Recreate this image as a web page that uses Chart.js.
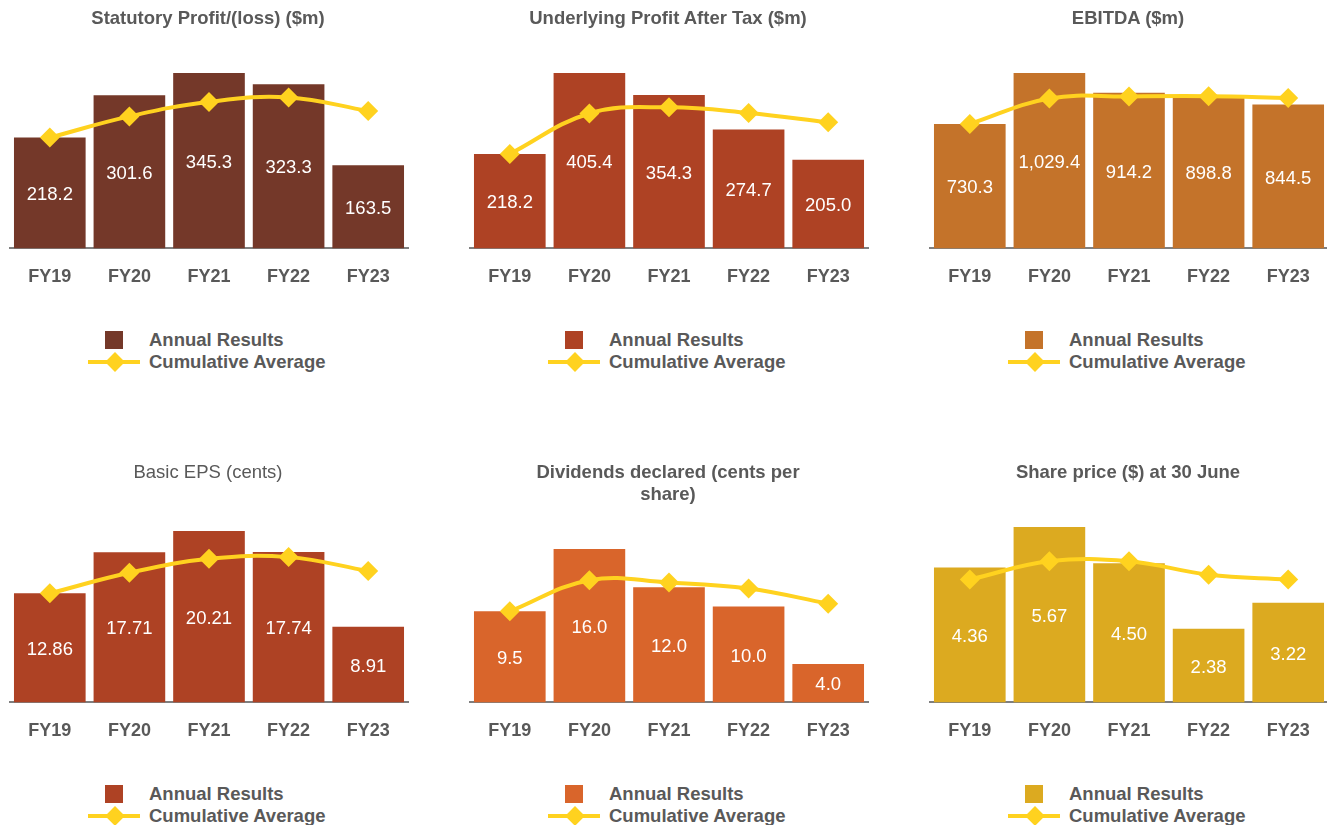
<!DOCTYPE html>
<html>
<head>
<meta charset="utf-8">
<script src="https://cdn.jsdelivr.net/npm/chart.js@4/dist/chart.umd.min.js"></script>
<style>
  body { margin: 0; background: #fff; font-family: "Liberation Sans", Arial, sans-serif; }
  #page { position: relative; width: 1327px; height: 825px; overflow: hidden; }
  .cell { position: absolute; width: 460px; height: 454px; }
  .cell canvas { position: absolute; left: 0; top: 0; }
  .title { position: absolute; left: 8px; width: 400px; text-align: center; color: #595959;
           font-size: 18.5px; font-weight: bold; line-height: 22px; top: 7px; }
  .title.plain { font-weight: normal; }
  .leg { position: absolute; left: 0; font-size: 18.5px; font-weight: bold; color: #595959; line-height: 20px; }
  .leg .box { position: absolute; left: 105px; top: 331px; width: 18px; height: 18px; }
  .leg .ln { position: absolute; left: 88px; top: 360px; width: 52px; height: 4px; background: #ffd21f; }
  .leg .dia { position: absolute; left: 108px; top: 355px; width: 14px; height: 14px; background: #ffd21f; transform: rotate(45deg); }
  .leg .t1 { position: absolute; left: 149px; top: 330px; white-space: nowrap; }
  .leg .t2 { position: absolute; left: 149px; top: 352px; white-space: nowrap; }
</style>
</head>
<body>
<div id="page"></div>
<script>
// categorias e valores
const years = ['FY19', 'FY20', 'FY21', 'FY22', 'FY23'];
const statutoryProfit = [218.2, 301.6, 345.3, 323.3, 163.5];
const statutoryAvg = [218.2, 259.9, 288.4, 297.2, 270.4];
const underlyingProfit = [218.2, 405.4, 354.3, 274.7, 205.0];
const underlyingAvg = [218.2, 311.8, 326.0, 313.2, 291.5];
const ebitda = [730.3, 1029.4, 914.2, 898.8, 844.5];
const ebitdaAvg = [730.3, 879.9, 891.3, 893.2, 883.4];
const basicEps = [12.86, 17.71, 20.21, 17.74, 8.91];
const basicEpsAvg = [12.86, 15.29, 16.93, 17.13, 15.49];
const dividends = [9.5, 16.0, 12.0, 10.0, 4.0];
const dividendsAvg = [9.5, 12.75, 12.5, 11.88, 10.3];
const sharePrice = [4.36, 5.67, 4.50, 2.38, 3.22];
const sharePriceAvg = [3.97, 4.56, 4.56, 4.13, 3.97];

const seriesNames = ['Annual Results', 'Cumulative Average'];
const lineColor = '#ffd21f';

const panels = [
  { title: 'Statutory Profit/(loss) ($m)', bars: statutoryProfit, avg: statutoryAvg, color: '#743829', dec: 1, top: 73 },
  { title: 'Underlying Profit After Tax ($m)', bars: underlyingProfit, avg: underlyingAvg, color: '#ae4224', dec: 1, top: 73 },
  { title: 'EBITDA ($m)', bars: ebitda, avg: ebitdaAvg, color: '#c4732a', dec: 1, top: 73 },
  { title: 'Basic EPS (cents)', bars: basicEps, avg: basicEpsAvg, color: '#ae4224', dec: 2, top: 77, plain: true },
  { title: 'Dividends declared (cents per<br>share)', bars: dividends, avg: dividendsAvg, color: '#d9652b', dec: 1, top: 95 },
  { title: 'Share price ($) at 30 June', bars: sharePrice, avg: sharePriceAvg, color: '#dcaa20', dec: 2, top: 73 }
];

// escreve o valor no meio de cada barra
const barLabels = {
  id: 'barLabels',
  afterDatasetsDraw(chart, args, opts) {
    const ctx = chart.ctx;
    const meta = chart.getDatasetMeta(1);
    ctx.save();
    ctx.fillStyle = '#ffffff';
    ctx.font = '18.5px "Liberation Sans", Arial, sans-serif';
    ctx.textAlign = 'center';
    ctx.textBaseline = 'middle';
    meta.data.forEach((bar, i) => {
      const v = chart.data.datasets[1].data[i];
      const txt = v.toLocaleString('en-US', { minimumFractionDigits: opts.dec, maximumFractionDigits: opts.dec });
      ctx.fillText(txt, bar.x, (bar.y + bar.base) / 2 + 2);
    });
    ctx.restore();
  }
};

const page = document.getElementById('page');

panels.forEach((p, idx) => {
  const col = idx % 3, row = Math.floor(idx / 3);
  const cell = document.createElement('div');
  cell.className = 'cell';
  cell.style.left = (col * 460) + 'px';
  cell.style.top = (row * 454) + 'px';
  cell.innerHTML = `
    <canvas width="420" height="320"></canvas>
    <div class="title${p.plain ? ' plain' : ''}">${p.title}</div>
    <div class="leg">
      <div class="box" style="background:${p.color}"></div>
      <div class="ln"></div><div class="dia"></div>
      <div class="t1">${seriesNames[0]}</div>
      <div class="t2">${seriesNames[1]}</div>
    </div>`;
  page.appendChild(cell);

  const ctx = cell.querySelector('canvas').getContext('2d');
  new Chart(ctx, {
    data: {
      labels: years,
      datasets: [{
        type: 'line',
        label: seriesNames[1],
        data: p.avg,
        order: 0,
        borderColor: lineColor,
        backgroundColor: lineColor,
        borderWidth: 4,
        tension: 0.4,
        pointStyle: 'rectRot',
        pointRadius: 10,
        pointBorderWidth: 0,
        clip: false
      }, {
        type: 'bar',
        label: seriesNames[0],
        data: p.bars,
        order: 1,
        backgroundColor: p.color,
        barPercentage: 0.9,
        categoryPercentage: 1
      }]
    },
    options: {
      responsive: false,
      animation: false,
      devicePixelRatio: 1,
      layout: { padding: { left: 8, right: 12, top: p.top, bottom: 14 } },
      plugins: {
        legend: { display: false },
        tooltip: { enabled: false },
        barLabels: { dec: p.dec }
      },
      scales: {
        y: { display: false, min: 0, max: Math.max(...p.bars) },
        x: {
          grid: { display: false, drawTicks: false },
          border: { display: true, color: '#7f7f7f', width: 2 },
          ticks: {
            padding: 18,
            color: '#595959',
            font: { family: '"Liberation Sans", Arial, sans-serif', size: 18, weight: 'bold' }
          }
        }
      }
    },
    plugins: [barLabels]
  });
});
</script>
</body>
</html>
